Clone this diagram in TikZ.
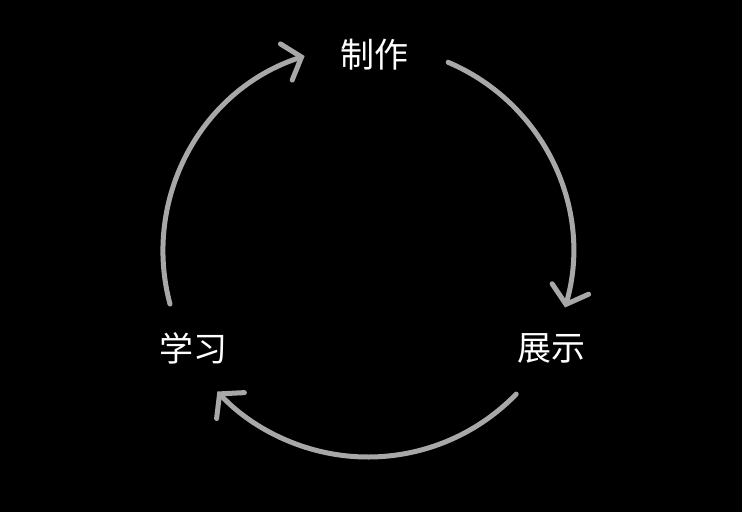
\documentclass[tikz,border=0pt]{standalone}
\usepackage{fontspec}
\newfontfamily\cjkfont{Noto Sans CJK SC}
\usetikzlibrary{arrows.meta}
\definecolor{ringgray}{RGB}{168,168,168}
\tikzset{
    cyc/.style={draw=ringgray, line width=5pt, line cap=round,
        -{Straight Barb[length=16pt,width=38pt,line cap=round]}},
    stage/.style={text=white, font=\cjkfont\fontsize{34}{38}\selectfont, inner sep=0pt}
}
\begin{document}
\begin{tikzpicture}[x=1pt,y=1pt]
    \fill[black] (0,0) rectangle (742,512);
    \useasboundingbox (0,0) rectangle (742,512);
    \coordinate (c) at (368,261);

    % Stages
    \node[stage] (make) at (374,457) {制作};
    \node[stage] (show) at (551,164) {展示};
    \node[stage] (learn) at (193,164) {学习};

    % Cycle arrows
    \draw[cyc] ([shift={(67:205)}]c) arc[start angle=67, end angle=-16, radius=205];
    \draw[cyc] ([shift={(-44:206)}]c) arc[start angle=-44, end angle=-137, radius=206];
    \draw[cyc] ([shift={(195:205)}]c) arc[start angle=195, end angle=108, radius=205];
\end{tikzpicture}
\end{document}
